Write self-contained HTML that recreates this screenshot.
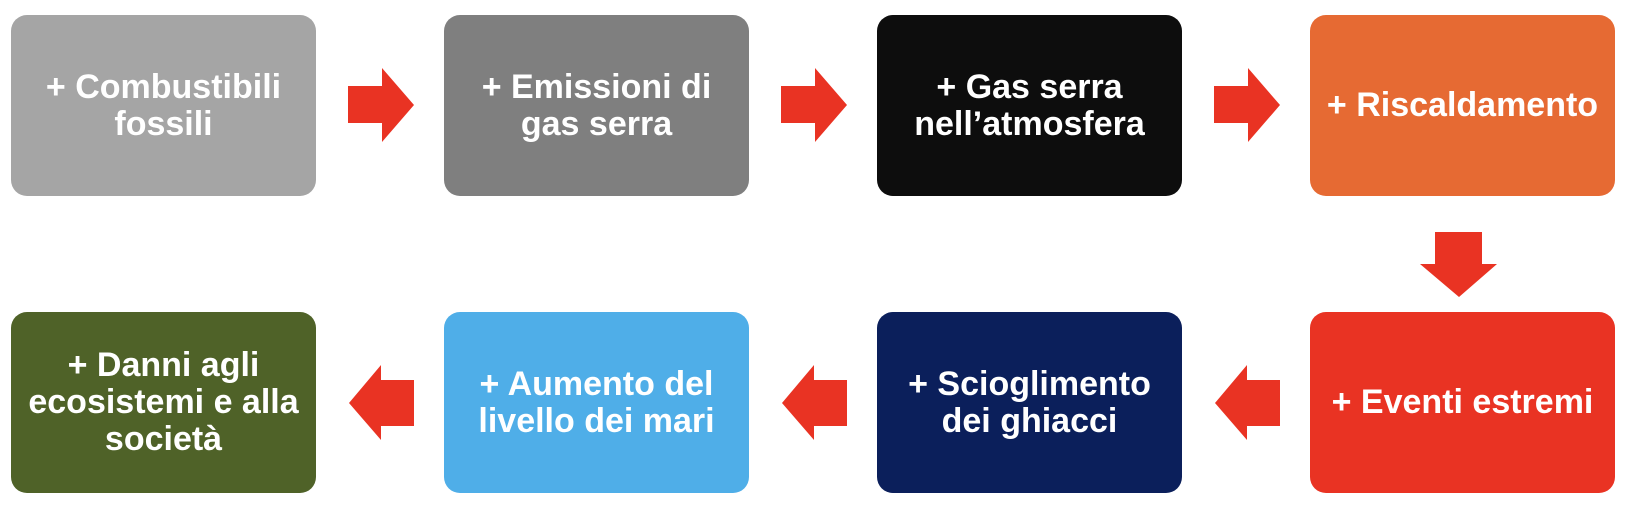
<!DOCTYPE html>
<html><head><meta charset="utf-8"><style>
html,body{margin:0;padding:0;background:#fff;width:1640px;height:510px;overflow:hidden;position:relative;font-family:"Liberation Sans",Arial,sans-serif}
.b{position:absolute;width:305px;height:181px;border-radius:16px;display:flex;align-items:center;justify-content:center;text-align:center;color:#fff;font-weight:bold;font-size:34px;line-height:37px}
svg{position:absolute;left:0;top:0}
</style></head><body>
<div class="b" style="left:11px;top:15px;background:#a5a5a5">+ Combustibili<br>fossili</div>
<div class="b" style="left:444px;top:15px;background:#7f7f7f">+ Emissioni di<br>gas serra</div>
<div class="b" style="left:877px;top:15px;background:#0d0d0d">+ Gas serra<br>nell’atmosfera</div>
<div class="b" style="left:1310px;top:15px;background:#e66a33">+ Riscaldamento</div>
<div class="b" style="left:1310px;top:312px;background:#e93323">+ Eventi estremi</div>
<div class="b" style="left:877px;top:312px;background:#0b1f5b">+ Scioglimento<br>dei ghiacci</div>
<div class="b" style="left:444px;top:312px;background:#4faee8">+ Aumento del<br>livello dei mari</div>
<div class="b" style="left:11px;top:312px;background:#4f6228">+ Danni agli<br>ecosistemi e alla<br>società</div>
<svg width="1640" height="510">
<g fill="#e93323">
<polygon points="348,86 382,86 382,68 414,105 382,142 382,123 348,123"/>
<polygon points="781,86 815,86 815,68 847,105 815,142 815,123 781,123"/>
<polygon points="1214,86 1248,86 1248,68 1280,105 1248,142 1248,123 1214,123"/>
<polygon points="1435,232 1482,232 1482,264 1497,264 1459,297 1420,264 1435,264"/>
<polygon points="1280,380 1247,380 1247,365 1215,403 1247,440 1247,426 1280,426"/>
<polygon points="847,380 814,380 814,365 782,403 814,440 814,426 847,426"/>
<polygon points="414,380 381,380 381,365 349,403 381,440 381,426 414,426"/>
</g></svg>
</body></html>
